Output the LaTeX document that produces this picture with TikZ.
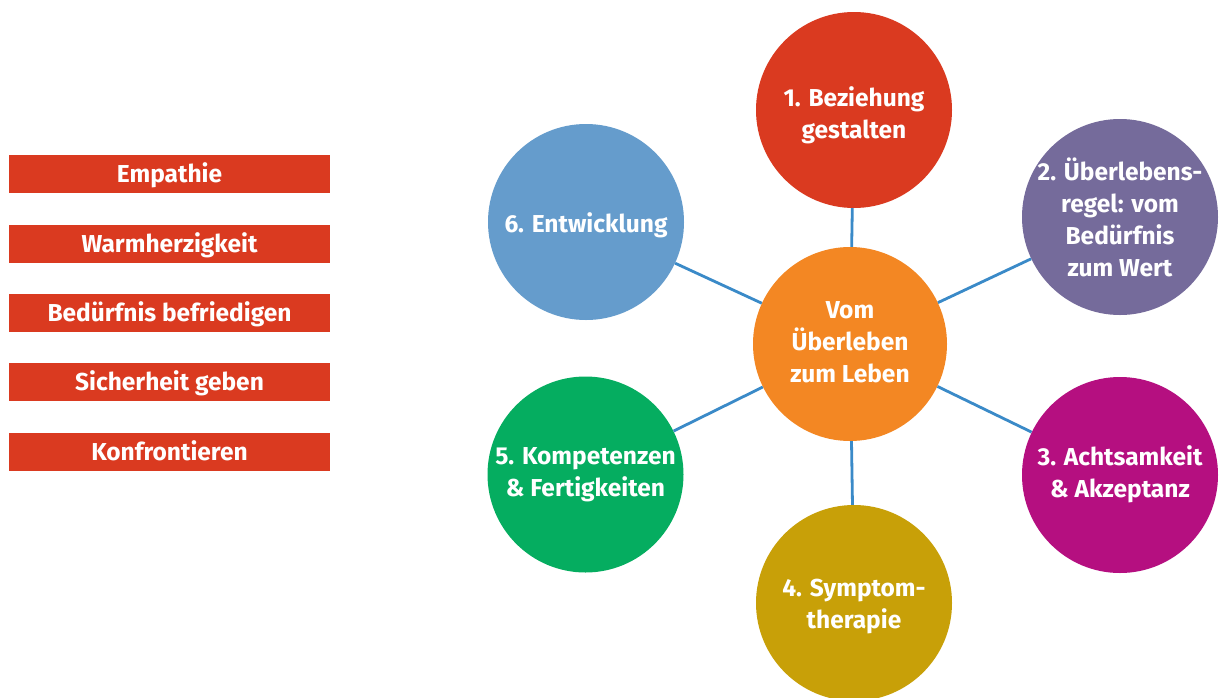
\documentclass[tikz,border=0pt]{standalone}
\usepackage{fontspec}
\setmainfont{Fira Sans}
\definecolor{cred}{HTML}{DA3A20}
\definecolor{cpurple}{HTML}{756B9B}
\definecolor{cmagenta}{HTML}{B50F80}
\definecolor{cgold}{HTML}{C8A008}
\definecolor{cgreen}{HTML}{05AD60}
\definecolor{cblue}{HTML}{659CCC}
\definecolor{corange}{HTML}{F38723}
\definecolor{cline}{HTML}{3A8AC8}
\newcommand{\lowerby}[2]{\raisebox{-#1}[0pt][0pt]{\begin{tabular}{@{}c@{}}#2\end{tabular}}}
\begin{document}
\begin{tikzpicture}[x=1pt,y=-1pt,
  bubble/.style={circle,minimum size=196pt,inner sep=0pt,text=white,
    font=\fontsize{24.5}{32}\selectfont\bfseries},
  tag/.style={fill=cred,minimum width=321pt,minimum height=38pt,inner sep=0pt,text=white,
    font=\fontsize{24.5}{28}\selectfont\bfseries},
  link/.style={draw=cline,line width=2.8pt}]
\clip (0,0) rectangle (1219,697);
\fill[white] (0,0) rectangle (1219,697);
\node[tag] (t1) at (169.5,174) {\lowerby{9pt}{Empathie}};
\node[tag] (t2) at (169.5,244) {\lowerby{9pt}{Warmherzigkeit}};
\node[tag] (t3) at (169.5,313) {\lowerby{9pt}{Bedürfnis befriedigen}};
\node[tag] (t4) at (169.5,382) {\lowerby{9pt}{Sicherheit geben}};
\node[tag] (t5) at (169.5,452) {\lowerby{9pt}{Konfrontieren}};
\node[bubble,fill=corange,minimum size=194pt] (c) at (850,344) {\lowerby{6pt}{Vom\\Überleben\\zum Leben}};
\node[bubble,fill=cred] (b1) at (854,110) {\lowerby{12pt}{1. Beziehung\\gestalten}};
\node[bubble,fill=cpurple] (b2) at (1120,217) {\lowerby{11pt}{2. Überlebens-\\regel: vom\\Bedürfnis\\zum Wert}};
\node[bubble,fill=cmagenta] (b3) at (1120,475) {\lowerby{6pt}{3. Achtsamkeit\\\& Akzeptanz}};
\node[bubble,fill=cgold] (b4) at (854,603) {\lowerby{9pt}{4. Symptom-\\therapie}};
\node[bubble,fill=cgreen] (b5) at (585.5,474.5) {\lowerby{6pt}{5. Kompetenzen\\\& Fertigkeiten}};
\node[bubble,fill=cblue] (b6) at (586,222) {\lowerby{10pt}{6. Entwicklung}};
\draw[link] (c) -- (b1);
\draw[link] (c) -- (b2);
\draw[link] (c) -- (b3);
\draw[link] (c) -- (b4);
\draw[link] (c) -- (b5);
\draw[link] (c) -- (b6);
\end{tikzpicture}
\end{document}
